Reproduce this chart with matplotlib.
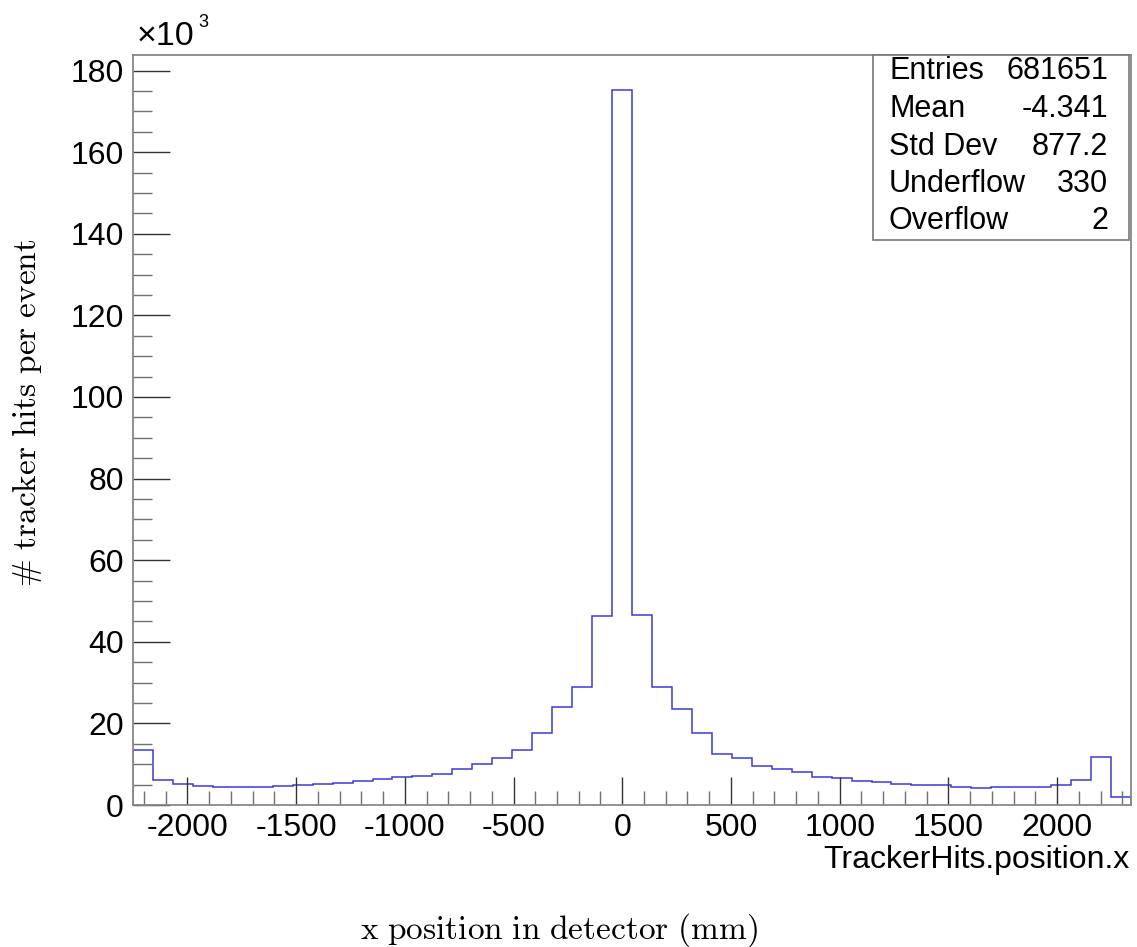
import matplotlib
matplotlib.use("Agg")
import matplotlib.pyplot as plt
import numpy as np
from matplotlib.ticker import MultipleLocator
from matplotlib.patches import Rectangle

# ---- data (bin contents in thousands of hits per event) ----
x_lo, x_hi, n_bins = -2250.0, 2340.0, 50
counts_k = [13.4, 6.13, 5.07, 4.58, 4.33, 4.33, 4.33, 4.58, 4.82, 5.07,
            5.31, 5.88, 6.30, 6.86, 7.03, 7.60, 8.70, 9.97, 11.6, 13.4,
            17.6, 23.9, 28.8, 46.2, 175.2, 46.6, 28.8, 23.6, 17.6, 12.6,
            11.6, 9.56, 8.82, 8.09, 6.86, 6.62, 5.88, 5.64, 5.07, 4.98,
            4.82, 4.41, 4.25, 4.41, 4.41, 4.41, 4.82, 6.13, 11.76, 1.96]
stats_names = ["Entries", "Mean", "Std Dev", "Underflow", "Overflow"]
stats_values = ["681651", "-4.341", "877.2", "330", "2"]
x_major = [-2000, -1500, -1000, -500, 0, 500, 1000, 1500, 2000]
y_major = [0, 20, 40, 60, 80, 100, 120, 140, 160, 180]

plt.rcParams['font.family'] = ['Liberation Sans', 'DejaVu Sans']
plt.rcParams['mathtext.fontset'] = 'cm'

W, H = 1137, 947
fig = plt.figure(figsize=(W / 100, H / 100), dpi=100)
fig.patch.set_facecolor('white')

def fx(px):
    return px / W

def fy(py):
    return 1 - py / H

ax = fig.add_axes([fx(133), fy(805), fx(1131) - fx(133), fy(55) - fy(805)])

edges = np.linspace(x_lo, x_hi, n_bins + 1)
ax.stairs(counts_k, edges, color='#3c3cd2', lw=1.1, baseline=0)

ax.set_xlim(x_lo, x_hi)
ax.set_ylim(0, 183.8)

ax.set_xticks(x_major)
ax.set_xticklabels([str(v) for v in x_major])
ax.set_yticks(y_major)
ax.set_yticklabels([str(v) for v in y_major])
ax.xaxis.set_minor_locator(MultipleLocator(100))
ax.yaxis.set_minor_locator(MultipleLocator(5))

ax.tick_params(axis='both', which='both', direction='in', top=False, right=False)
ax.tick_params(axis='x', which='major', length=27.7 * 0.72, width=1.0, color='#333333',
               labelsize=23, pad=6.0)
ax.tick_params(axis='x', which='minor', length=13.7 * 0.72, width=1.0, color='#707070')
ax.tick_params(axis='y', which='major', length=37 * 0.72, width=1.0, color='#333333',
               labelsize=23, pad=6.5)
ax.tick_params(axis='y', which='minor', length=18.7 * 0.72, width=1.0, color='#707070')

for s in ax.spines.values():
    s.set_color('#888888')
    s.set_linewidth(1.3)

# x10^3 multiplier
fig.text(fx(137), fy(45), "\u00d710", fontsize=24.5, ha='left', va='baseline')
fig.text(fx(198), fy(27), "3", fontsize=13, ha='left', va='baseline')

# stats box
fig.patches.append(Rectangle((fx(873), fy(240)), fx(1129) - fx(873), fy(55) - fy(240),
                             transform=fig.transFigure, facecolor='white',
                             edgecolor='#777777', lw=1.2, zorder=5))
baselines = [79.3, 117.3, 155.0, 192.3, 229.3]
for name, val, b in zip(stats_names, stats_values, baselines):
    fig.text(fx(889), fy(b), name, fontsize=22, ha='left', va='baseline', zorder=6)
    fig.text(fx(1108), fy(b), val, fontsize=22, ha='right', va='baseline', zorder=6)

# axis titles
fig.text(fx(1130), fy(868), "TrackerHits.position.x", fontsize=23, ha='right', va='baseline')
fig.text(fx(559), fy(930), r"$\mathrm{x\ position\ in\ detector\ (mm)}$",
         fontsize=24, ha='center', va='center')
fig.text(fx(27), fy(413), r"$\mathrm{\#\ tracker\ hits\ per\ event}$",
         fontsize=24, ha='center', va='center', rotation=90)

fig.savefig("out.png", dpi=100, facecolor='white')
